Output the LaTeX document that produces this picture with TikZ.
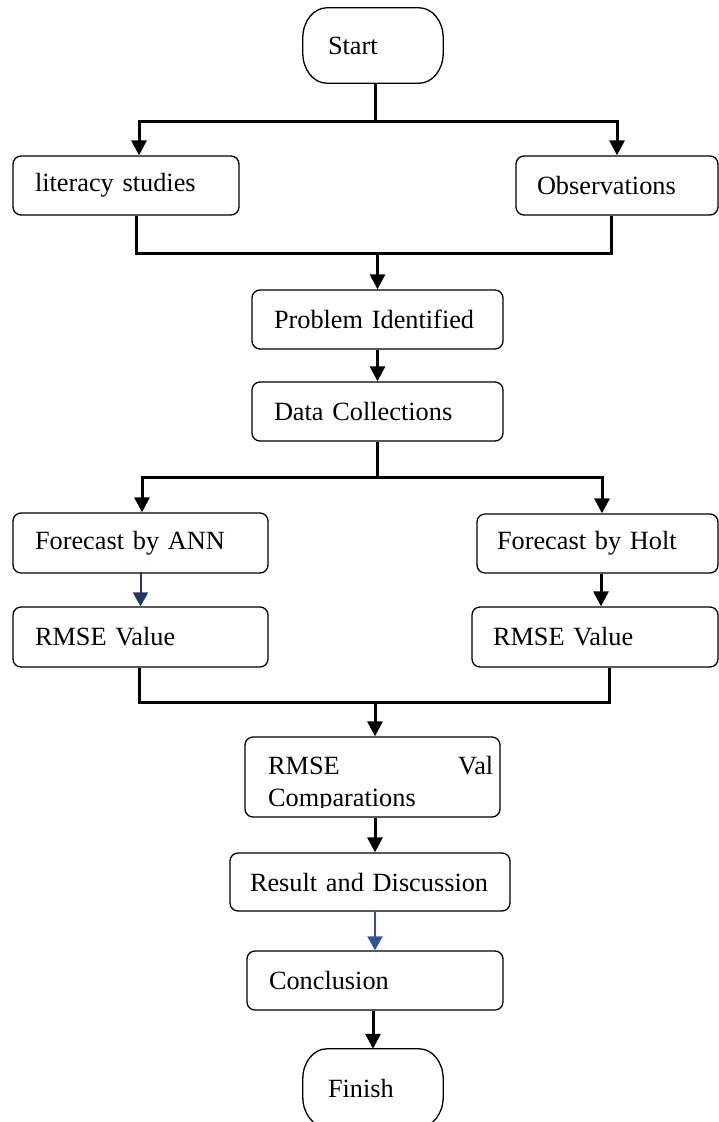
\documentclass[tikz,border=0pt]{standalone}
\usepackage{fontspec}
\setmainfont{Liberation Serif}
\usetikzlibrary{arrows.meta}
\definecolor{navyarrow}{HTML}{1F3864}
\definecolor{midblue}{HTML}{2F5597}
\newcommand{\termpath}[1]{\draw[line width=1.3pt] ([xshift=24pt]#1.north west) -- ([xshift=-24pt]#1.north east)
  arc[start angle=90,end angle=0,x radius=24pt,y radius=30pt] -- ([yshift=30pt]#1.south east)
  arc[start angle=0,end angle=-90,x radius=24pt,y radius=30pt] -- ([xshift=24pt]#1.south west)
  arc[start angle=270,end angle=180,x radius=24pt,y radius=30pt] -- ([yshift=-30pt]#1.north west)
  arc[start angle=180,end angle=90,x radius=24pt,y radius=30pt] -- cycle;}
\begin{document}
\begin{tikzpicture}[x=1pt,y=-1pt,
  txt/.style={font=\fontsize{26.3}{32}\selectfont},
  box/.style={txt, draw, line width=1.3pt, rounded corners=8pt, align=left, inner ysep=0pt, minimum height=59pt},
  term/.style={txt, align=left, inner ysep=0pt, minimum height=75pt, minimum width=140pt, text width=90pt, inner xsep=25pt},
  conn/.style={line width=3pt},
  arr/.style={conn, -{Triangle[length=15pt,width=15pt]}},
  arrN/.style={line width=2pt, color=navyarrow, -{Triangle[length=14pt,width=15pt]}},
  arrB/.style={line width=2pt, color=midblue, -{Triangle[length=14pt,width=15pt]}}
]
\useasboundingbox (0,0) rectangle (719,1122);

\node[term] (start) at (373,45.5) {Start};
\termpath{start}
\node[box, minimum width=226pt, text width=182pt, inner xsep=22pt] (lit) at (126,185.5) {literacy studies};
\node[box, minimum width=202pt, text width=160pt, inner xsep=21pt] (obs) at (617,185.5) {Observations};
\node[box, minimum width=251pt, text width=207pt, inner xsep=22pt] (prob) at (377.5,319.5) {Problem Identified};
\node[box, minimum width=251pt, text width=207pt, inner xsep=22pt] (data) at (377.5,411.5) {Data Collections};
\node[box, minimum width=255pt, text width=211pt, inner xsep=22pt, minimum height=60pt] (ann) at (140.5,543) {Forecast by ANN};
\node[box, minimum width=255pt, text width=211pt, inner xsep=22pt, minimum height=60pt] (rmL) at (140.5,637) {RMSE Value};
\node[box, minimum width=241pt, text width=201pt, inner xsep=20pt] (holt) at (597.5,543.5) {Forecast by Holt};
\node[box, minimum width=246pt, text width=204pt, inner xsep=21pt, minimum height=60pt] (rmR) at (595,637) {RMSE Value};
\node[box, minimum width=255pt, minimum height=80pt, inner sep=0pt] (comp) at (372.5,777) {};
\begin{scope}
  \clip (246,738) rectangle (493.5,807);
  \node[txt, anchor=base west, inner sep=0pt] (cA) at (268,774) {RMSE};
  \node[txt, anchor=base west, inner sep=0pt] (cB) at (458,774) {Value};
  \node[txt, anchor=base west, inner sep=0pt] (cC) at (268,806) {Comparations};
\end{scope}
\node[box, minimum width=280pt, text width=240pt, inner xsep=20pt, minimum height=58pt] (res) at (370,882) {Result and Discussion};
\node[box, minimum width=256pt, text width=212pt, inner xsep=22pt] (conc) at (375,980.5) {Conclusion};
\node[term, minimum height=78pt] (fin) at (373,1088) {Finish};
\termpath{fin}

\coordinate (j1) at (375,121);
\draw[conn] (start.south -| j1) -- (j1);
\draw[arr] (j1) -| ([xshift=13pt]lit.north);
\draw[arr] (j1) -| (obs.north);

\coordinate (j2) at (377.5,253);
\draw[conn] ([xshift=10pt]lit.south) |- (j2);
\draw[conn] ([xshift=-6pt]obs.south) |- (j2);
\draw[arr] (j2) -- (prob.north);
\draw[arr] (prob.south) -- (data.north);

\coordinate (j3) at (377.5,477);
\draw[conn] (data.south) -- (j3);
\draw[arr] (j3) -| ([xshift=1.5pt]ann.north);
\draw[arr] (j3) -| ([xshift=4.5pt]holt.north);
\draw[arrN] ([yshift=2pt]ann.south) -- (ann.south |- rmL.north);
\draw[arr] ([xshift=3.5pt]holt.south) -- ([xshift=3.5pt]holt.south |- rmR.north);

\coordinate (j4) at (375,702);
\draw[conn] ([xshift=-1.5pt]rmL.south) |- (j4);
\draw[conn] ([xshift=14pt]rmR.south) |- (j4);
\draw[arr] (j4) -- (j4 |- comp.north);
\draw[arr] ([xshift=2.5pt]comp.south) -- ([xshift=2.5pt]comp.south |- res.north);
\draw[arrB] ([yshift=1pt]res.south -| conc.north) -- (conc.north);
\draw[arr] ([xshift=-2pt]conc.south) -- (fin.north);
\end{tikzpicture}
\end{document}
